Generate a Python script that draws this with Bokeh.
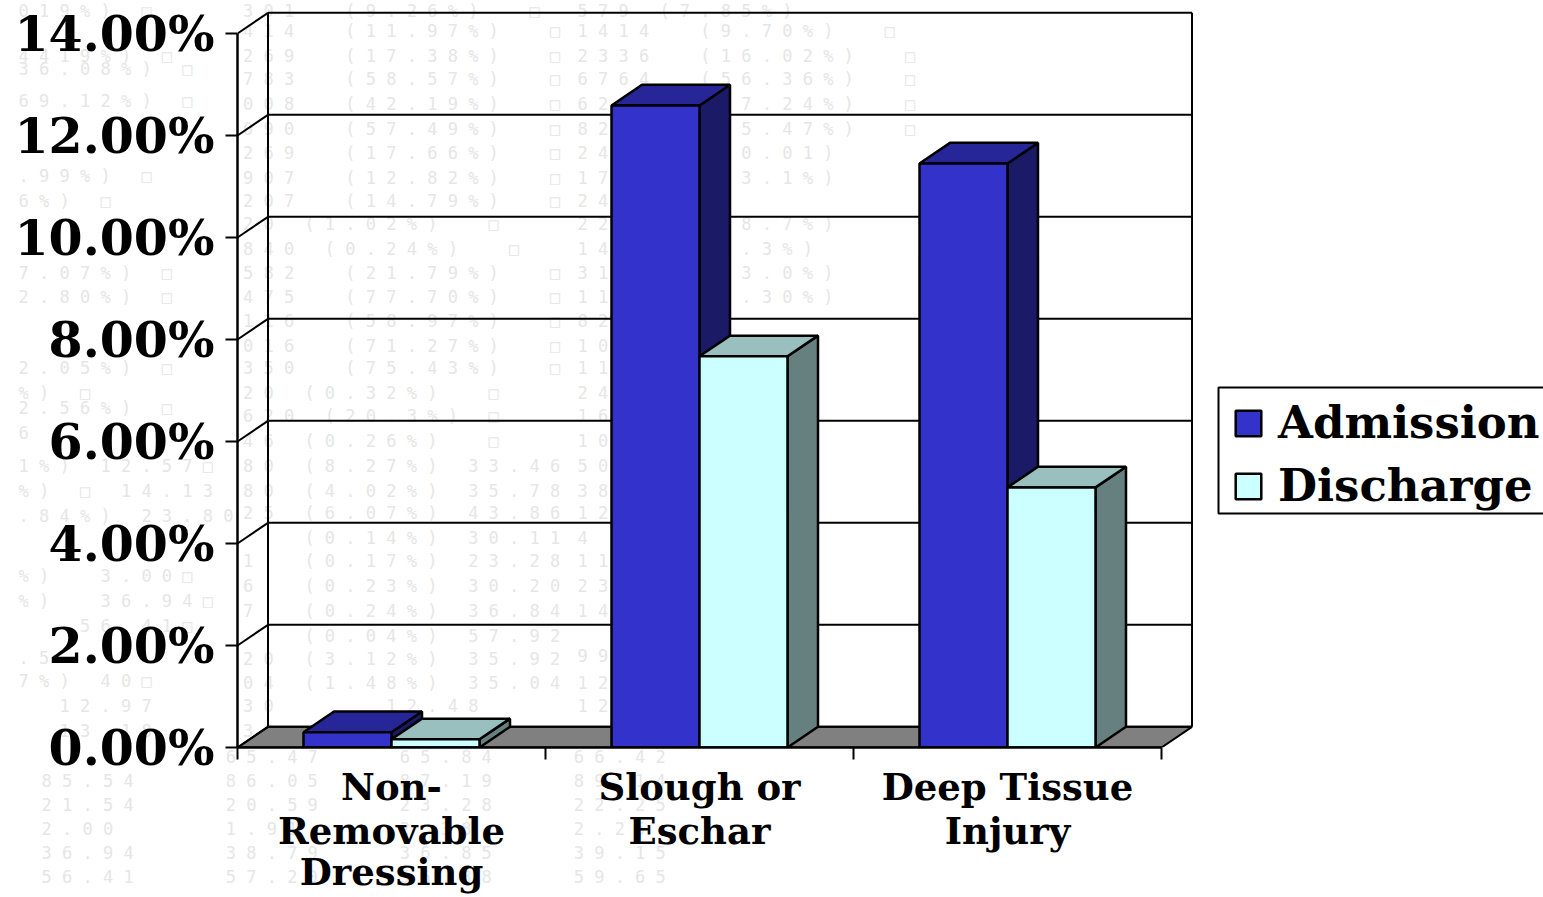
from bokeh.embed import file_html
from bokeh.resources import INLINE
from bokeh.models import (FixedTicker, Label, Legend, LegendItem, LinearAxis,
                          PrintfTickFormatter, Range1d)
from bokeh.plotting import figure

category_rows = [["Non-", "Slough or", "Deep Tissue"],
                 ["Removable", "Eschar", "Injury"],
                 ["Dressing", "", ""]]
category_standoff = [5, -3, -6]
admission = [0.30, 12.59, 11.45]
discharge = [0.16, 7.67, 5.10]
y_ticks = [0, 2, 4, 6, 8, 10, 12, 14]

# Faint table of counts printed behind the chart: (top offset, text)
wm_col1 = [(10, "019%) □"), (55, "4419%) □"), (68, "36.08%) □"), (100, "69.12%) □"), (175, ".99%) □"),
           (200, "6%) □"), (272, "7.07%) □"), (296, "2.80%) □"), (367, "2.05%) □"), (392, "%) □"),
           (407, "2.56%) □"), (432, "6"), (465, "1%) 12.57□"), (490, "%) □ 14.13"), (515, ".84%) 23.80"),
           (575, "%)  3.00□"), (600, "%)  36.94□"), (625, "   56.41□"), (657, ".5"), (680, "7%) 40□"),
           (705, "  12.97"), (730, "  13.18")]
wm_col2 = [(10, "2301  (9.26%)  □"), (30, "1414  (11.97%)  □"), (55, "1269  (17.38%)  □"), (78, "6783  (58.57%)  □"),
           (103, "3008  (42.19%)  □"), (128, "4090  (57.49%)  □"), (152, "1269  (17.66%)  □"),
           (177, "8907  (12.82%)  □"), (200, "1207  (14.79%)  □"), (223, "720 (1.02%)  □"), (248, "1840 (0.24%)  □"),
           (272, "1582  (21.79%)  □"), (296, "5475  (77.70%)  □"), (320, "4116  (58.97%)  □"),
           (345, "5016  (71.27%)  □"), (367, "5350  (75.43%)  □"), (392, "220 (0.32%)  □"), (415, "1620 (20.3%) □"),
           (440, "146 (0.26%)  □"), (465, "580 (8.27%) 33.46"), (490, "280 (4.02%) 35.78"), (512, "425 (6.07%) 43.86"),
           (537, "9   (0.14%) 30.11"), (560, "11  (0.17%) 23.28"), (585, "16  (0.23%) 30.20"),
           (610, "17  (0.24%) 36.84"), (635, "3   (0.04%) 57.92"), (658, "220 (3.12%) 35.92"),
           (682, "104 (1.48%) 35.04"), (705, "130     12.48"), (730, "139")]
wm_col3 = [(10, "579 (7.85%)"), (30, "1414  (9.70%)  □"), (55, "2336  (16.02%)  □"), (78, "6764  (56.36%)  □"),
           (103, "6234  (57.24%)  □"), (128, "8231  (75.47%)  □"), (152, "2486  (50.01)"), (177, "1730  (13.1%)"),
           (200, "2400"), (223, "2200  (18.7%)"), (248, "1400  (9.3%)"), (272, "3100  (23.0%)"), (296, "1180  (8.30%)"),
           (320, "8231"), (345, "1000  (7.3%)"), (367, "1100  (8.1%)"), (392, "24"), (415, "16"), (440, "10"),
           (465, "50"), (490, "38"), (512, "12"), (537, "4"), (560, "11"), (585, "23"), (610, "14"), (655, "99"),
           (682, "12"), (705, "12")]
# The same table's lower rows, below the floor: left margin, then three columns across
wm_lower = [("", "65.47", "65.84", "66.42"),
            ("85.54", "86.05", "87.19", "89.14"),
            ("21.54", "20.59", "23.28", "22.25"),
            ("2.00", "1.91", "2.38", "2.25"),
            ("36.94", "38.79", "36.85", "39.15"),
            ("56.41", "57.20", "56.88", "59.65")]
wm_lower_x = [45, 222, 400, 577]

PX_X = 308.0   # pixels per category
PX_Y = 51.0    # pixels per percentage point
LEFT, ZERO = 237, 747
W, H = 1543, 897
DX, DY = 30.5 / PX_X, 20.7 / PX_Y   # oblique offset of the 3-D depth
BAR = 88 / PX_X
N = 3

BLUE = ("#3333CC", "#262699", "#1A1A66")
CYAN = ("#CCFFFF", "#99BFBF", "#668080")
WM_COLOR = "#e6e6e6"
WM_FONT = "DejaVu Sans Mono"
WM_SIZE = 17
WM_CHAR = 0.602 * WM_SIZE   # advance of one monospace character
NBSP = "\u00a0"

FONT = "DejaVu Serif"
EDGE = 2.5


def data_x(px):
    return (px - LEFT) / PX_X


def data_y(px):
    return (ZERO - px) / PX_Y


def spaced(txt):
    """Widen the table's lettering; no-break spaces survive in the output."""
    return NBSP.join(txt).replace(" ", NBSP)


p = figure(width=W, height=H, output_backend="svg", toolbar_location=None,
           x_range=Range1d(0, (W - LEFT) / PX_X), y_range=Range1d(0, ZERO / PX_Y),
           x_axis_location=None, y_axis_location=None,
           min_border_left=LEFT, min_border_right=0, min_border_top=0, min_border_bottom=H - ZERO)
p.outline_line_color = None
p.background_fill_color = None
p.border_fill_color = "white"
p.xgrid.visible = False
p.ygrid.visible = False

# Table rows that fall inside the plotting area
for start, col in ((222, wm_col2), (577, wm_col3)):
    for top, txt in col:
        p.add_layout(Label(x=data_x(start), y=data_y(top), text=spaced(txt), level="underlay",
                           text_font=WM_FONT, text_font_size=f"{WM_SIZE}px", text_color=WM_COLOR,
                           text_baseline="middle"))

# Floor and back wall
p.patch([0, 3, 3 + DX, DX], [0, 0, DY, DY], fill_color="#808080", line_color="black", line_width=2)
p.segment(x0=[0] * len(y_ticks), y0=y_ticks, x1=[DX] * len(y_ticks), y1=[v + DY for v in y_ticks],
          line_color="black", line_width=2)
p.segment(x0=[DX] * len(y_ticks), y0=[v + DY for v in y_ticks], x1=[3 + DX] * len(y_ticks),
          y1=[v + DY for v in y_ticks], line_color="black", line_width=2)
p.segment(x0=[DX, 3 + DX], y0=[DY, DY], x1=[DX, 3 + DX], y1=[14 + DY, 14 + DY],
          line_color="black", line_width=2)


def draw_series(values, left_offset, colors):
    lefts = [i + 0.5 + left_offset for i in range(N)]
    rights = [x + BAR for x in lefts]
    side_x = [[r, r + DX, r + DX, r] for r in rights]
    side_y = [[0, DY, v + DY, v] for v in values]
    top_x = [[l, r, r + DX, l + DX] for l, r in zip(lefts, rights)]
    top_y = [[v, v, v + DY, v + DY] for v in values]
    p.patches(side_x, side_y, fill_color=colors[2], line_color="black", line_width=EDGE)
    p.patches(top_x, top_y, fill_color=colors[1], line_color="black", line_width=EDGE)
    return p.quad(left=lefts, right=rights, bottom=[0] * N, top=values,
                  fill_color=colors[0], line_color="black", line_width=EDGE)


r_adm = draw_series(admission, -BAR, BLUE)
r_dis = draw_series(discharge, 0, CYAN)

# Value axis with its ticks standing out from the front edge; painted after the margin table
yax = LinearAxis(ticker=FixedTicker(ticks=y_ticks), formatter=PrintfTickFormatter(format="%.2f%%"),
                 bounds=(0, 14), major_tick_out=12, major_tick_in=0, minor_tick_out=0, minor_tick_in=0,
                 major_tick_line_width=2, axis_line_width=2.5, axis_line_color="black",
                 major_label_standoff=11, major_label_text_font=FONT, major_label_text_font_style="bold",
                 major_label_text_font_size="49px", major_label_text_color="black", level="annotation")
p.add_layout(yax, "left")

# One category axis per line of the names; the first also marks the group boundaries
centers = [i + 0.5 for i in range(N)]
for row, names in enumerate(category_rows):
    first = row == 0
    ax = LinearAxis(ticker=FixedTicker(ticks=centers, minor_ticks=list(range(N + 1)) if first else []),
                    major_label_overrides=dict(zip(centers, names)), bounds=(0, 3),
                    major_tick_out=0, major_tick_in=0, minor_tick_out=12 if first else 0, minor_tick_in=0,
                    minor_tick_line_width=2, axis_line_width=2.5,
                    axis_line_color="black" if first else None,
                    major_label_standoff=category_standoff[row], major_label_text_font=FONT,
                    major_label_text_font_style="bold", major_label_text_font_size="37px",
                    major_label_text_color="black", level="annotation")
    p.add_layout(ax, "below")

# Left-margin table rows: an unlined axis pulled back across the value labels.
# Each row is padded to a fixed width so its lettering starts where the row starts.
SLOTS = 11
margin_ticks = [data_y(top) for top, _ in wm_col1]
margin_text = [spaced(txt[:SLOTS].ljust(SLOTS))[:2 * SLOTS - 1] for _, txt in wm_col1]
margin = LinearAxis(ticker=FixedTicker(ticks=margin_ticks), major_label_overrides=dict(zip(margin_ticks, margin_text)),
                    axis_line_color=None, major_tick_line_color=None, minor_tick_line_color=None,
                    major_tick_out=0, major_tick_in=0, minor_tick_out=0, minor_tick_in=0,
                    major_label_standoff=-222, major_label_text_font=WM_FONT,
                    major_label_text_font_size=f"{WM_SIZE}px", major_label_text_color=WM_COLOR)
p.add_layout(margin, "left")

# Table rows below the floor: one block of text spanning the page width on a single tick
WIDTH_CHARS = 150
lower_lines = []
for row in wm_lower:
    chars = [NBSP] * WIDTH_CHARS
    for px, cell in zip(wm_lower_x, row):
        for k, ch in enumerate(spaced(cell)):
            chars[round(px / WM_CHAR) + k] = ch
    lower_lines.append("".join(chars))
block_tick = data_x(WIDTH_CHARS * WM_CHAR / 2)
lower = LinearAxis(ticker=FixedTicker(ticks=[block_tick]), major_label_overrides={block_tick: "\n".join(lower_lines)},
                   axis_line_color=None, major_tick_line_color=None, minor_tick_line_color=None,
                   major_tick_out=0, major_tick_in=0, minor_tick_out=0, minor_tick_in=0,
                   major_label_standoff=-150, major_label_text_font=WM_FONT,
                   major_label_text_font_size=f"{WM_SIZE}px", major_label_text_color=WM_COLOR)
p.add_layout(lower, "below")

# Legend frame runs off the page's right edge, so it is drawn as its own box
p.quad(left=[data_x(1218)], right=[data_x(1570)], top=[data_y(387)], bottom=[data_y(513)],
       fill_color="white", line_color="black", line_width=2)

legend = Legend(items=[LegendItem(label="Admission", renderers=[r_adm]),
                       LegendItem(label="Discharge", renderers=[r_dis])],
                location=(1232 - LEFT, ZERO - 512), orientation="vertical",
                border_line_color=None, background_fill_alpha=0, glyph_width=32, glyph_height=32,
                label_standoff=14, label_text_font=FONT, label_text_font_style="bold",
                label_text_font_size="45px", label_text_color="black", label_height=50,
                spacing=10, padding=0, margin=0)
p.add_layout(legend)

open("out.html", "w").write(file_html(p, INLINE))
